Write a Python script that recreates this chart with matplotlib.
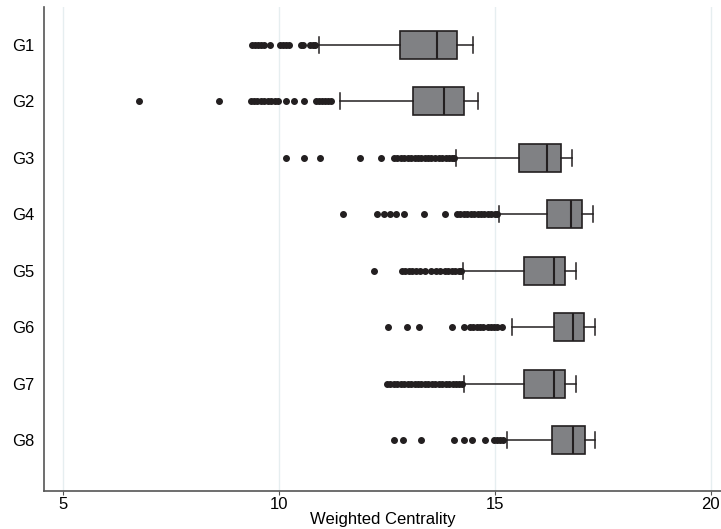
import matplotlib
matplotlib.use("Agg")
from matplotlib import pyplot as plt

plt.rcParams['font.family'] = ['Liberation Sans', 'DejaVu Sans']

# box statistics
groups = ['G1', 'G2', 'G3', 'G4', 'G5', 'G6', 'G7', 'G8']
q1 = [12.81, 13.11, 15.56, 16.21, 15.67, 16.38, 15.67, 16.32]
med = [13.66, 13.82, 16.22, 16.76, 16.38, 16.81, 16.36, 16.82]
q3 = [14.12, 14.29, 16.54, 17.03, 16.63, 17.07, 16.62, 17.10]
whislo = [10.93, 11.42, 14.11, 15.09, 14.26, 15.40, 14.29, 15.28]
whishi = [14.49, 14.60, 16.79, 17.28, 16.88, 17.33, 16.88, 17.33]

fliers = [
    [9.38, 9.45, 9.52, 9.58, 9.65, 9.79, 10.03, 10.10, 10.16, 10.23,
     10.50, 10.56, 10.72, 10.78, 10.84],
    [6.75, 8.62, 9.35, 9.43, 9.50, 9.58, 9.66, 9.74, 9.82, 9.90, 9.97,
     10.16, 10.35, 10.58, 10.86, 10.93, 11.00, 11.07, 11.13, 11.20],
    [10.17, 10.58, 10.96, 11.87, 12.37, 12.66, 12.74, 12.82, 12.90,
     12.98, 13.06, 13.14, 13.22, 13.30, 13.38, 13.46, 13.51, 13.62,
     13.70, 13.78, 13.86, 13.94, 14.00, 14.05],
    [11.48, 12.27, 12.43, 12.56, 12.71, 12.90, 13.36, 13.85, 14.12,
     14.20, 14.28, 14.36, 14.44, 14.52, 14.60, 14.68, 14.76, 14.84,
     14.92, 15.00, 15.05],
    [12.19, 12.85, 12.93, 13.01, 13.09, 13.17, 13.27, 13.38, 13.52,
     13.64, 13.74, 13.84, 13.92, 14.00, 14.08, 14.16, 14.22],
    [12.52, 12.97, 13.24, 14.01, 14.28, 14.43, 14.50, 14.58, 14.66,
     14.73, 14.85, 14.92, 14.99, 15.05, 15.16],
    [12.50, 12.58, 12.66, 12.74, 12.82, 12.90, 12.98, 13.06, 13.14,
     13.22, 13.30, 13.38, 13.46, 13.54, 13.62, 13.70, 13.78, 13.86,
     13.94, 14.02, 14.10, 14.17, 14.24],
    [12.67, 12.87, 13.28, 14.06, 14.28, 14.47, 14.78, 14.97, 15.05,
     15.12, 15.20],
]

stats = []
for i, g in enumerate(groups):
    stats.append(dict(label=g, q1=q1[i], med=med[i], q3=q3[i],
                      whislo=whislo[i], whishi=whishi[i], fliers=fliers[i]))

fig = plt.figure(figsize=(7.21, 5.29), dpi=100)
ax = fig.add_axes([44 / 721, 38 / 529, 1 - 44 / 721, (491 - 7) / 529])

positions = list(range(1, len(groups) + 1))
ax.bxp(stats, positions=positions, vert=False, widths=0.49, capwidths=0.28,
       patch_artist=True, manage_ticks=False,
       boxprops=dict(facecolor='#808184', edgecolor='#231f20', linewidth=1.2),
       medianprops=dict(color='#231f20', linewidth=1.5),
       whiskerprops=dict(color='#231f20', linewidth=1.1),
       capprops=dict(color='#231f20', linewidth=1.1),
       flierprops=dict(marker='o', markerfacecolor='#231f20',
                       markeredgecolor='#231f20', markersize=4.0))

ax.set_yticks(positions)
ax.set_yticklabels(groups)
ax.set_ylim(8.9, 0.33)
ax.set_xlim(4.555, 20.24)
ax.set_xticks([5, 10, 15, 20])
ax.set_xticklabels(['5', '10', '15', '20'])
ax.set_xlabel('Weighted Centrality', fontsize=12, labelpad=0)

ax.tick_params(axis='x', labelsize=12, length=3, color='#555555', pad=1)
ax.tick_params(axis='y', labelsize=12, length=0, pad=7)
ax.grid(axis='x', color='#e6eef0', linewidth=1)
ax.set_axisbelow(True)

for s in ['top', 'right']:
    ax.spines[s].set_visible(False)
for s in ['left', 'bottom']:
    ax.spines[s].set_color('#555555')
    ax.spines[s].set_linewidth(1.2)

fig.savefig('out.png', dpi=100)
